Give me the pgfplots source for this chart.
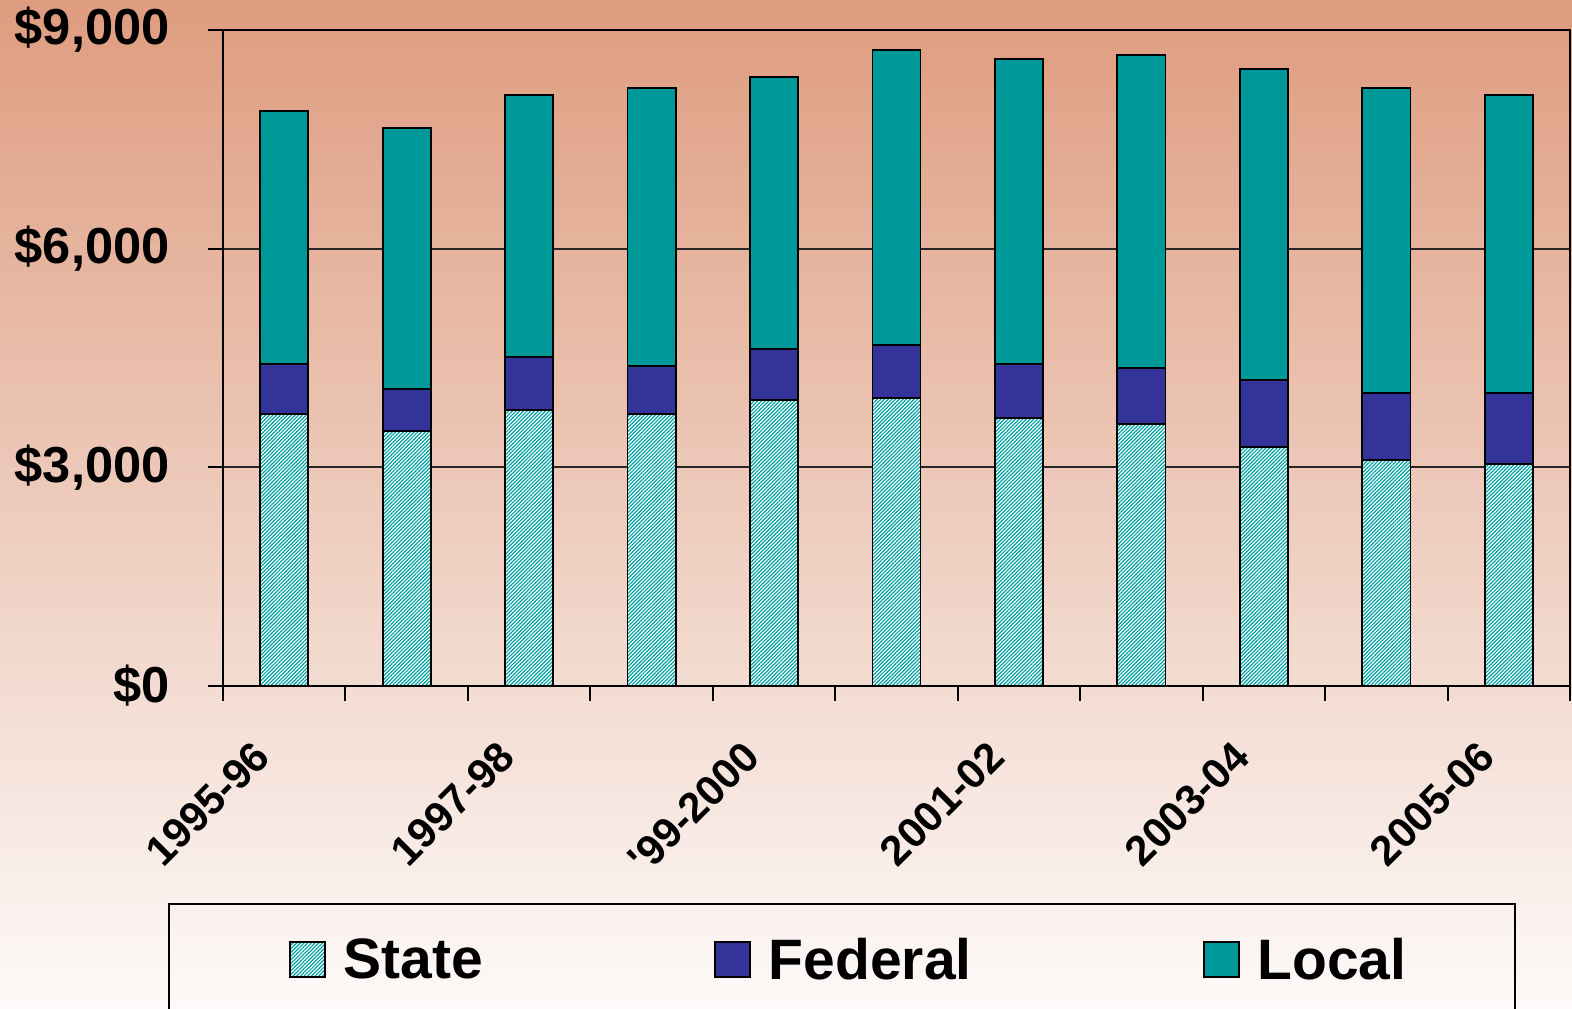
\documentclass[border=0pt]{standalone}
\usepackage{pgfplots}
\pgfplotsset{compat=1.18}
\usepackage{pgfplotstable}
\usepackage{fontspec}
\setmainfont{Liberation Sans}
\usetikzlibrary{patterns.meta}

\definecolor{bgtop}{RGB}{222,156,127}
\definecolor{bgbot}{RGB}{253,250,249}
\definecolor{localc}{RGB}{0,153,153}
\definecolor{fedc}{RGB}{51,51,153}
\definecolor{statec}{RGB}{0,160,160}

% per-pupil revenue by source, stacked
\pgfplotstableread{
idx state federal local
0   3730  687     3471
1   3498  576     3580
2   3786  727     3594
3   3731  659     3813
4   3923  700     3731
5   3951  727     4046
6   3676  741     4184
7   3594  768     4294
8   3278  920     4266
9   3100  919     4184
10  3045  974     4088
}\funding

\begin{document}
\begin{tikzpicture}
\path[use as bounding box] (0,0) rectangle (786pt,504pt);
\clip (0,0) rectangle (786pt,504pt);
\shade[top color=bgtop, bottom color=bgbot] (0,0) rectangle (786pt,504pt);
\begin{axis}[
    at={(111.5pt,161pt)}, anchor=south west,
    scale only axis, width=673.5pt, height=328pt,
    ybar stacked, bar width=0.393,
    xmin=-0.5, xmax=10.5, ymin=0, ymax=9000,
    xtick={-0.5,0.5,1.5,2.5,3.5,4.5,5.5,6.5,7.5,8.5,9.5,10.5},
    xticklabels={},
    extra x ticks={0,2,4,6,8,10},
    extra x tick labels={1995-96,1997-98,\textquotesingle 99-2000,2001-02,2003-04,2005-06},
    extra x tick style={major tick length=0pt},
    ytick={0,3000,6000,9000},
    yticklabels={{\$0},{\$3,000},{\$6,000},{\$9,000}},
    tick align=outside, major tick length=7.5pt,
    xtick pos=left, ytick pos=left,
    tick style={black, line width=1pt},
    axis line style={black, line width=1.2pt},
    ymajorgrids, major grid style={black!85, line width=1pt},
    yticklabel style={font=\fontsize{25.3}{30}\selectfont\bfseries, anchor=east, inner sep=0pt, xshift=-19pt},
    xticklabel style={font=\fontsize{21}{25}\selectfont\bfseries, anchor=east, inner sep=0pt, xshift=-11pt, yshift=-31.5pt, rotate=45},
    legend style={at={(axis description cs:-0.041,-0.3308)}, anchor=north west,
        legend columns=3, draw=black, line width=1pt, fill=none,
        font=\fontsize{28.5}{34}\selectfont\bfseries,
        inner xsep=52pt, inner ysep=15pt,
        /tikz/every odd column/.append style={column sep=7pt},
        /tikz/every even column/.append style={column sep=105.5pt}},
    legend image code/.code={\path (-8pt,0pt);
        \draw[#1, line width=1pt] (0pt,-8.25pt) rectangle (17.5pt,9.25pt);},
]
\addplot[draw=black, line width=0.9pt, preaction={fill=white},
    pattern={Lines[angle=45,distance=1.3pt,line width=0.6pt]}, pattern color=statec]
    table[x=idx, y=state] {\funding};
\addplot[draw=black, line width=0.9pt, fill=fedc] table[x=idx, y=federal] {\funding};
\addplot[draw=black, line width=0.9pt, fill=localc] table[x=idx, y=local] {\funding};
\legend{State, Federal, Local}
\end{axis}
\end{tikzpicture}
\end{document}
